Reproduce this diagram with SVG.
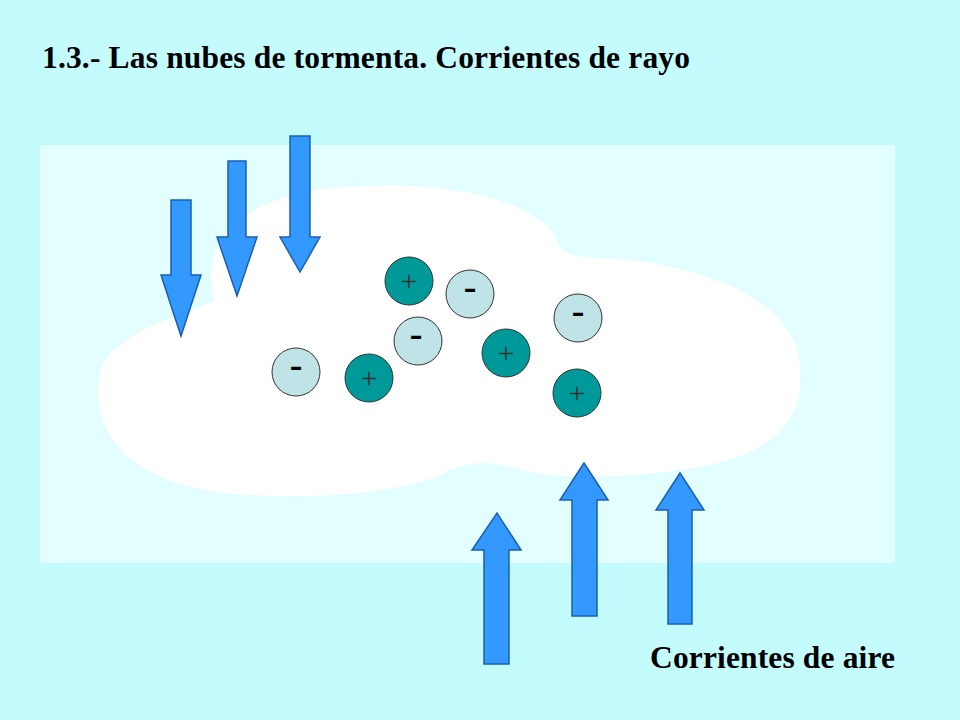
<svg xmlns="http://www.w3.org/2000/svg" width="960" height="720" viewBox="0 0 960 720">
<style>
.arr{fill:#3399FF;stroke:#1a5fb0;stroke-width:1.5}
.pos{fill:#009999;stroke:#333;stroke-width:1}
.neg{fill:#BFE3E6;stroke:#333;stroke-width:1}
.t{font-family:"Liberation Serif",serif;font-weight:bold;fill:#000}
.s{font-family:"Liberation Serif",serif;fill:#000;text-anchor:middle}
.pl{font-size:30px;fill:#333}
.mi{font-size:38px;font-weight:bold}
</style>
<rect width="960" height="720" fill="#C4FCFE"/>
<rect x="40" y="145" width="855" height="418" fill="#E2FEFF"/>
<path d="M120,345 C150,320 200,310 215,300 C200,250 230,200 330,188 C420,180 520,190 555,235 C560,250 560,255 600,258 C700,262 800,300 800,370 C805,430 760,460 680,470 C620,478 560,480 520,470 C490,460 470,462 450,470 C420,490 330,500 250,495 C150,490 100,450 98,395 C97,370 105,355 120,345 Z" fill="#fff"/>
<g id="connectors">
<polygon class="arr" points="171,200 191,200 191,275 201,275 181,336 161,275 171,275"/>
<polygon class="arr" points="228,161 246,161 246,237 257,237 237,296 217,237 228,237"/>
<polygon class="arr" points="290,136 310,136 310,237 320,237 300,272 280,237 290,237"/>
<polygon class="arr" points="484,664 509,664 509,550 521,550 497,513 472,550 484,550"/>
<polygon class="arr" points="572,616 597,616 597,500 608,500 584,463 560,500 572,500"/>
<polygon class="arr" points="668,624 692,624 692,510 704,510 680,473 656,510 668,510"/>
</g>
<g id="p1"><circle class="pos" cx="409" cy="281" r="24"/><text class="s pl" x="409" y="291">+</text></g>
<g id="p2"><circle class="pos" cx="506" cy="353" r="24"/><text class="s pl" x="506" y="363">+</text></g>
<g id="p3"><circle class="pos" cx="369" cy="378" r="24"/><text class="s pl" x="369" y="388">+</text></g>
<g id="p4"><circle class="pos" cx="577" cy="393" r="24"/><text class="s pl" x="577" y="403">+</text></g>
<g id="n1"><circle class="neg" cx="470" cy="294" r="24"/><text class="s mi" x="470" y="299">-</text></g>
<g id="n2"><circle class="neg" cx="418" cy="341" r="24"/><text class="s mi" x="416" y="346">-</text></g>
<g id="n3"><circle class="neg" cx="296" cy="372" r="24"/><text class="s mi" x="296" y="377">-</text></g>
<g id="n4"><circle class="neg" cx="578" cy="318" r="24"/><text class="s mi" x="578" y="323">-</text></g>
<text class="t" x="42" y="68" font-size="31.5" textLength="648">1.3.- Las nubes de tormenta. Corrientes de rayo</text>
<text class="t" x="650" y="668" font-size="31.5" textLength="245">Corrientes de aire</text>
</svg>
